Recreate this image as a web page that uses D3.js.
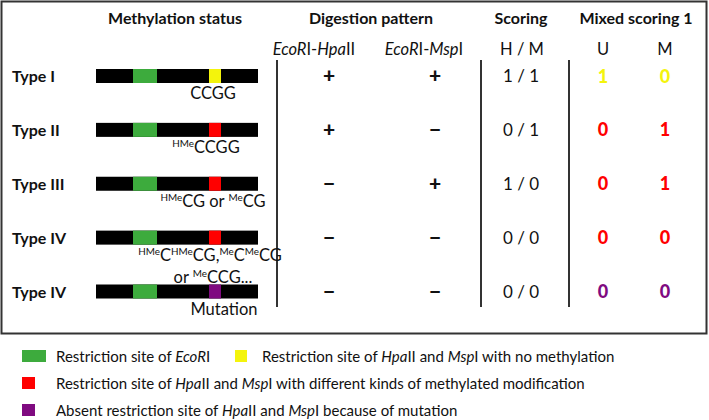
<!DOCTYPE html>
<html><head><meta charset="utf-8">
<script src="https://cdn.jsdelivr.net/npm/d3@7"></script>
<style>
body{margin:0;background:#fff}
svg{display:block}
text{font-family:Lato,"Open Sans",sans-serif;fill:#111}
</style>
</head><body>
<svg id="c" width="709" height="420"></svg>
<script>
// ---------- data ----------
const types = ["Type I", "Type II", "Type III", "Type IV", "Type IV"];
const siteKind = ["unmethylated", "methylated", "methylated", "methylated", "mutation"];
const siteLabels = ["CCGG", "{HMe}CCGG", "{HMe}CG or {Me}CG", "{HMe}C{HMe}CG,{Me}C{Me}CG|or {Me}CCG...", "Mutation"];
const hpaII = ["+", "+", "\u2212", "\u2212", "\u2212"];
const mspI = ["+", "\u2212", "+", "\u2212", "\u2212"];
const scoring = ["1 / 1", "0 / 1", "1 / 0", "0 / 0", "0 / 0"];
const mixedU = [1, 0, 0, 0, 0];
const mixedM = [0, 1, 1, 0, 0];
const headers = ["Methylation status", "Digestion pattern", "Scoring", "Mixed scoring 1"];
const subHeaders = ["_EcoR_I-_Hpa_II", "_EcoR_I-_Msp_I", "H / M", "U", "M"];
const legendKinds = ["ecori", "unmethylated", "methylated", "mutation"];
const legendLabels = [
  "Restriction site of _EcoR_I",
  "Restriction site of _Hpa_II and _Msp_I with no methylation",
  "Restriction site of _Hpa_II and _Msp_I with different kinds of methylated modification",
  "Absent restriction site of _Hpa_II and _Msp_I because of mutation"
];

// ---------- scales ----------
const color = d3.scaleOrdinal()
  .domain(["ecori", "unmethylated", "methylated", "mutation"])
  .range(["#3dab3d", "#f4f40c", "#ff0000", "#7f0a80"]);
const y = d3.scalePoint().domain(d3.range(types.length)).range([76, 291.5]);
const barX = d3.scaleLinear().domain([0, 1]).range([96, 258]);

const svg = d3.select("#c");

function rich(sel, str, size) {
  const parts = str.split(/(\{[^}]*\}|_[^_]*_)/).filter(s => s);
  let shift = 0;
  parts.forEach(p => {
    const t = sel.append("tspan");
    if (p[0] === "{") {
      t.text(p.slice(1, -1)).attr("font-size", size * 0.6).attr("dy", -size * 0.36);
      shift = -size * 0.36;
    } else {
      let s = p;
      if (p[0] === "_") { s = p.slice(1, -1); t.attr("font-style", "italic"); }
      t.text(s);
      if (shift) { t.attr("dy", -shift); shift = 0; }
    }
  });
}

// outer box
svg.append("rect").attr("x", 1.5).attr("y", 1.5).attr("width", 705).attr("height", 332)
  .attr("fill", "none").attr("stroke", "#333").attr("stroke-width", 2);

// headers
const headX = [175, 371, 521, 636];
svg.selectAll(".h").data(headers).join("text")
  .attr("x", (d, i) => headX[i]).attr("y", 24)
  .attr("text-anchor", "middle").attr("font-weight", "bold").attr("font-size", 16)
  .text(d => d);

const subX = [314, 424, 522, 603, 665];
svg.selectAll(".sh").data(subHeaders).join("text")
  .attr("x", (d, i) => subX[i]).attr("y", 55)
  .attr("text-anchor", "middle").attr("font-size", 16.5)
  .each(function (d) { rich(d3.select(this), d, 16.5); });

// vertical separators
[277, 481, 569].forEach(x => svg.append("line")
  .attr("x1", x).attr("x2", x).attr("y1", 60).attr("y2", 307)
  .attr("stroke", "#333").attr("stroke-width", 2));

const rowsG = svg.selectAll(".row").data(types).join("g")
  .attr("transform", (d, i) => `translate(0,${y(i)})`);

rowsG.append("text").attr("x", 12).attr("y", 6)
  .attr("font-weight", "bold").attr("font-size", 16).text(d => d);

// bars
rowsG.append("rect").attr("x", barX(0)).attr("y", -7).attr("width", barX(1) - barX(0)).attr("height", 14).attr("fill", "#000");
rowsG.append("rect").attr("x", 133).attr("y", -7).attr("width", 24).attr("height", 14).attr("fill", color("ecori"));
rowsG.append("rect").attr("x", 209).attr("y", -7).attr("width", 12).attr("height", 14)
  .attr("fill", (d, i) => color(siteKind[i]));

// site labels
const labelCx = [213, 206, 213, 210, 224];
rowsG.each(function (d, i) {
  const g = d3.select(this);
  const lines = siteLabels[i].split("|");
  lines.forEach((ln, k) => {
    const t = g.append("text").attr("x", k === 1 ? 213 : labelCx[i]).attr("y", 23 + k * 22)
      .attr("text-anchor", "middle").attr("font-size", 16.5);
    rich(t, ln, 16.5);
  });
});

// digestion pattern
rowsG.append("text").attr("x", 329).attr("y", 7).attr("text-anchor", "middle")
  .attr("font-weight", 900).attr("font-size", 21).text((d, i) => hpaII[i]);
rowsG.append("text").attr("x", 435).attr("y", 7).attr("text-anchor", "middle")
  .attr("font-weight", 900).attr("font-size", 21).text((d, i) => mspI[i]);
// scoring
rowsG.append("text").attr("x", 521).attr("y", 6).attr("text-anchor", "middle")
  .attr("font-size", 17).text((d, i) => scoring[i]);
// mixed scoring
rowsG.append("text").attr("x", 603).attr("y", 6.5).attr("text-anchor", "middle")
  .attr("font-weight", 900).attr("font-size", 18)
  .style("fill", (d, i) => color(siteKind[i])).text((d, i) => mixedU[i]);
rowsG.append("text").attr("x", 665).attr("y", 6.5).attr("text-anchor", "middle")
  .attr("font-weight", 900).attr("font-size", 18)
  .style("fill", (d, i) => color(siteKind[i])).text((d, i) => mixedM[i]);

// legend
const legPos = [[22, 356, 24], [235, 356, 12], [22, 383, 13], [22, 410, 13]];
const leg = svg.selectAll(".leg").data(legendKinds).join("g")
  .attr("transform", (d, i) => `translate(${legPos[i][0]},${legPos[i][1]})`);
leg.append("rect").attr("x", 0).attr("y", -6).attr("width", (d, i) => legPos[i][2]).attr("height", 12)
  .attr("fill", d => color(d));
leg.append("text").attr("x", (d, i) => i === 1 ? 27 : 34).attr("y", 6).attr("font-size", 15)
  .each(function (d, i) { rich(d3.select(this), legendLabels[i], 15); });
</script>
</body></html>
